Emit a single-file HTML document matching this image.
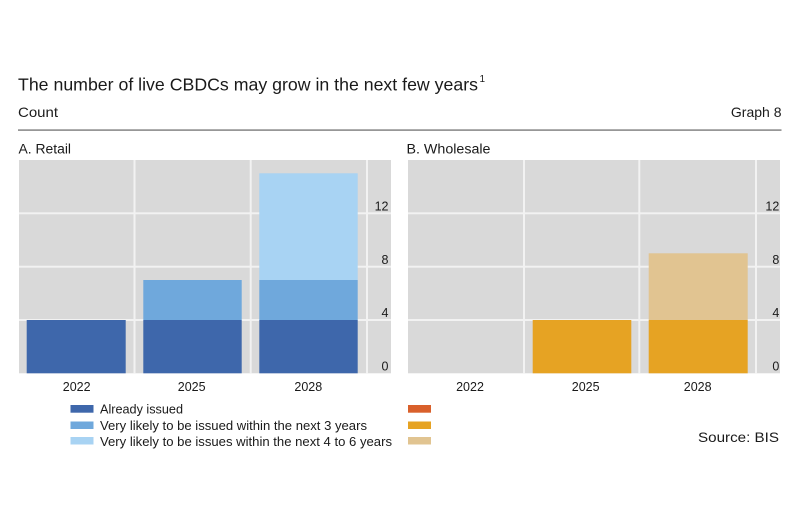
<!DOCTYPE html>
<html>
<head>
<meta charset="utf-8">
<style>
  html, body { margin: 0; padding: 0; background: #ffffff; }
  svg { display: block; }
  text { font-family: "Liberation Sans", "DejaVu Sans", sans-serif; fill: #1a1a1a; }
</style>
</head>
<body>
<svg width="810" height="524" viewBox="0 0 810 524" xmlns="http://www.w3.org/2000/svg">
  <rect x="0" y="0" width="810" height="524" fill="#ffffff"/>

  <!-- Title -->
  <text x="18" y="90.5" font-size="17.5" textLength="460" lengthAdjust="spacingAndGlyphs">The number of live CBDCs may grow in the next few years</text>
  <text x="479.5" y="82" font-size="10">1</text>
  <text x="18" y="117" font-size="14" textLength="40" lengthAdjust="spacingAndGlyphs">Count</text>
  <text x="781.5" y="117" font-size="14" text-anchor="end">Graph 8</text>
  <rect x="18" y="129.3" width="763.5" height="1.6" fill="#8c8c8c"/>

  <!-- Panel titles -->
  <text x="18.5" y="153.3" font-size="13.5" textLength="52.5" lengthAdjust="spacingAndGlyphs">A. Retail</text>
  <text x="406.5" y="153.3" font-size="13.5" textLength="84" lengthAdjust="spacingAndGlyphs">B. Wholesale</text>

  <!-- Panel A -->
  <rect x="19" y="160" width="372" height="213.3" fill="#d9d9d9"/>
  <g fill="#f2f2f2">
    <rect x="19" y="212.3" width="372" height="2"/>
    <rect x="19" y="265.7" width="372" height="2"/>
    <rect x="19" y="319" width="372" height="2"/>
    <rect x="133.5" y="160" width="2" height="213.3"/>
    <rect x="249.7" y="160" width="2" height="213.3"/>
    <rect x="366" y="160" width="2" height="213.3"/>
  </g>
  <!-- 2022 -->
  <rect x="26.7" y="320" width="99" height="53.3" fill="#3e67ab"/>
  <!-- 2025 -->
  <rect x="143.3" y="320" width="98.4" height="53.3" fill="#3e67ab"/>
  <rect x="143.3" y="280" width="98.4" height="40" fill="#6fa8dc"/>
  <!-- 2028 -->
  <rect x="259.3" y="320" width="98.4" height="53.3" fill="#3e67ab"/>
  <rect x="259.3" y="280" width="98.4" height="40" fill="#6fa8dc"/>
  <rect x="259.3" y="173.3" width="98.4" height="106.7" fill="#a8d3f3"/>
  <!-- Y ticks A -->
  <g font-size="12.5" text-anchor="end">
    <text x="388.5" y="210.5">12</text>
    <text x="388.5" y="263.8">8</text>
    <text x="388.5" y="317.2">4</text>
    <text x="388.5" y="370.5">0</text>
  </g>
  <!-- X labels A -->
  <g font-size="12.5" text-anchor="middle">
    <text x="76.7" y="390.8">2022</text>
    <text x="191.7" y="390.8">2025</text>
    <text x="308.3" y="390.8">2028</text>
  </g>

  <!-- Panel B -->
  <rect x="408" y="160" width="372" height="213.3" fill="#d9d9d9"/>
  <g fill="#f2f2f2">
    <rect x="408" y="212.3" width="372" height="2"/>
    <rect x="408" y="265.7" width="372" height="2"/>
    <rect x="408" y="319" width="372" height="2"/>
    <rect x="523" y="160" width="2" height="213.3"/>
    <rect x="638.3" y="160" width="2" height="213.3"/>
    <rect x="755" y="160" width="2" height="213.3"/>
  </g>
  <!-- 2025 -->
  <rect x="532.7" y="320" width="98.6" height="53.3" fill="#e6a323"/>
  <!-- 2028 -->
  <rect x="648.7" y="320" width="99" height="53.3" fill="#e6a323"/>
  <rect x="648.7" y="253.3" width="99" height="66.7" fill="#e1c491"/>
  <!-- Y ticks B -->
  <g font-size="12.5" text-anchor="end">
    <text x="779.3" y="210.5">12</text>
    <text x="779.3" y="263.8">8</text>
    <text x="779.3" y="317.2">4</text>
    <text x="779.3" y="370.5">0</text>
  </g>
  <!-- X labels B -->
  <g font-size="12.5" text-anchor="middle">
    <text x="470" y="390.8">2022</text>
    <text x="585.7" y="390.8">2025</text>
    <text x="697.7" y="390.8">2028</text>
  </g>

  <!-- Legend -->
  <rect x="70.5" y="405" width="23" height="7.7" fill="#3e67ab"/>
  <rect x="70.5" y="421.5" width="23" height="7.5" fill="#6fa8dc"/>
  <rect x="70.5" y="437" width="23" height="7.5" fill="#a8d3f3"/>
  <g font-size="12.5">
    <text x="100" y="413.3" textLength="83" lengthAdjust="spacingAndGlyphs">Already issued</text>
    <text x="100" y="429.8" textLength="267" lengthAdjust="spacingAndGlyphs">Very likely to be issued within the next 3 years</text>
    <text x="100" y="446" textLength="292" lengthAdjust="spacingAndGlyphs">Very likely to be issues within the next 4 to 6 years</text>
  </g>
  <rect x="408" y="405" width="23" height="7.7" fill="#d9602b"/>
  <rect x="408" y="421.5" width="23" height="7.5" fill="#e6a323"/>
  <rect x="408" y="437" width="23" height="7.5" fill="#e1c491"/>

  <text x="779" y="442" font-size="14" text-anchor="end" textLength="81" lengthAdjust="spacingAndGlyphs">Source: BIS</text>
</svg>
</body>
</html>
